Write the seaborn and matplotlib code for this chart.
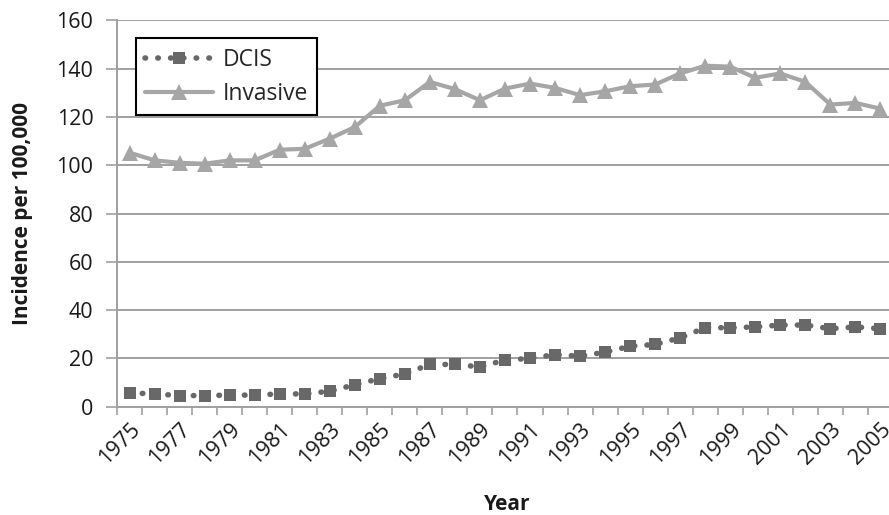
"""
Incidence of DCIS and invasive breast cancer per 100,000, 1975-2005.
"""

import matplotlib
matplotlib.use('Agg')
from matplotlib import pyplot as plt
from matplotlib.ticker import FixedLocator
import seaborn as sns

# Values
years = list(range(1975, 2006))
dcis = [5.7, 5.3, 4.6, 4.6, 4.8, 4.8, 5.3, 5.3, 6.4, 9.1, 11.6, 13.6, 17.5, 17.5, 16.5,
        19.3, 20.0, 21.6, 20.9, 22.6, 25.0, 25.8, 28.5, 32.7, 32.7, 33.0, 33.8, 33.8,
        32.3, 33.0, 32.3]
invasive = [105.2, 102.0, 101.0, 100.6, 102.0, 102.0, 106.4, 106.8, 111.0, 115.8, 124.6,
            126.9, 134.5, 131.5, 126.9, 131.7, 133.8, 132.0, 129.0, 130.6, 132.7, 133.4,
            138.0, 141.2, 140.8, 136.2, 138.0, 134.5, 125.1, 125.8, 123.4]
tick_years = years[::2]

DCIS_COLOR = '#686868'
INVASIVE_COLOR = '#a6a6a6'
AXIS_COLOR = '#a0a0a0'
TEXT_COLOR = '#1a1a1a'

sns.set_theme(style='white')
plt.rcParams['font.family'] = ['Open Sans', 'DejaVu Sans']

fig = plt.figure(figsize=(8.89, 5.15), dpi=100)
ax = fig.add_axes([117 / 889, 108.3 / 515, (889 - 117) / 889, 386.4 / 515])

# Grid lines behind the data
ax.set_axisbelow(True)
ax.yaxis.grid(True, color=AXIS_COLOR, linewidth=1.4)

# Series
sns.lineplot(x=years, y=dcis, ax=ax, color=DCIS_COLOR, label='DCIS',
             linestyle=(0, (0.1, 2.2)), linewidth=4.0, dash_capstyle='round',
             marker='s', markersize=8, markeredgewidth=0)
sns.lineplot(x=years, y=invasive, ax=ax, color=INVASIVE_COLOR, label='Invasive',
             linewidth=3.0, marker='^', markersize=11, markeredgewidth=0)

# Axes limits and ticks
ax.set_ylim(0, 160)
ax.set_xlim(1974.5, 1974.5 + (889 - 117) / 25.03)
ax.set_yticks(range(0, 161, 20))
ax.set_xticks(tick_years)
ax.set_xticklabels([str(y) for y in tick_years], rotation=45, ha='right',
                   rotation_mode='anchor', fontsize=15.5, color=TEXT_COLOR)
ax.xaxis.set_minor_locator(FixedLocator([y - 0.5 for y in years] + [years[-1] + 0.5]))
ax.tick_params(axis='x', which='major', length=0, pad=9)
ax.tick_params(axis='x', which='minor', bottom=True, length=6, width=1.2,
               color=AXIS_COLOR, direction='out')
ax.tick_params(axis='y', left=True, length=8, width=1.2, color=AXIS_COLOR,
               direction='out', labelsize=15.5, labelcolor=TEXT_COLOR, pad=9)

# Spines
for side in ('top', 'right'):
    ax.spines[side].set_visible(False)
for side in ('left', 'bottom'):
    ax.spines[side].set_color(AXIS_COLOR)
    ax.spines[side].set_linewidth(1.4)

ax.set_xlabel('Year', fontsize=15, fontweight='bold', color=TEXT_COLOR)
ax.set_ylabel('Incidence per 100,000', fontsize=15, fontweight='bold', color=TEXT_COLOR)
ax.xaxis.set_label_coords(0.505, -0.226)
ax.yaxis.set_label_coords(-0.109, 0.5)

# Legend box
leg = ax.legend(loc='upper left', bbox_to_anchor=(0.024, 0.953), fontsize=16.5,
                frameon=True, fancybox=False, edgecolor='black', framealpha=1,
                handlelength=3.0, borderpad=0.4, labelspacing=0.45, handletextpad=0.4,
                borderaxespad=0)
leg.get_frame().set_linewidth(1.5)

fig.savefig('out.png', dpi=100)
plt.close(fig)
